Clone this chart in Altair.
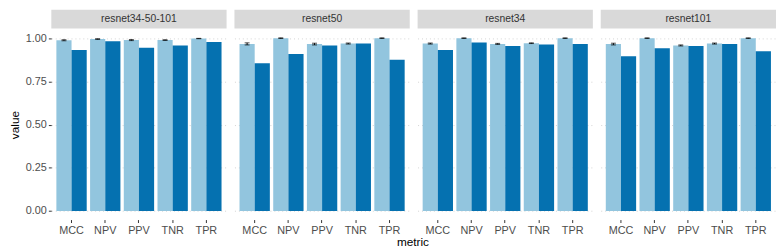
import altair as alt
import pandas as pd

models = ["resnet34-50-101", "resnet50", "resnet34", "resnet101"]
metrics = ["MCC", "NPV", "PPV", "TNR", "TPR"]
groups = ["validation", "test"]

# light (validation) bar heights per model, in metric order
light_vals = {
    "resnet34-50-101": [0.988, 0.995, 0.989, 0.989, 0.998],
    "resnet50":        [0.967, 1.000, 0.966, 0.969, 1.000],
    "resnet34":        [0.969, 1.000, 0.967, 0.971, 1.000],
    "resnet101":       [0.966, 1.000, 0.958, 0.969, 1.000],
}
# error half-widths on the light bars
light_err = {
    "resnet34-50-101": [0.003, 0.002, 0.003, 0.002, 0.001],
    "resnet50":        [0.006, 0.002, 0.005, 0.003, 0.002],
    "resnet34":        [0.003, 0.002, 0.003, 0.002, 0.002],
    "resnet101":       [0.005, 0.002, 0.003, 0.003, 0.002],
}
# dark (test) bar heights
dark_vals = {
    "resnet34-50-101": [0.931, 0.982, 0.944, 0.957, 0.978],
    "resnet50":        [0.855, 0.909, 0.957, 0.969, 0.875],
    "resnet34":        [0.931, 0.975, 0.955, 0.964, 0.967],
    "resnet101":       [0.895, 0.942, 0.955, 0.967, 0.924],
}
colors = ["#92C5DE", "#0571B0"]

rows = []
for m in models:
    for i, met in enumerate(metrics):
        v = light_vals[m][i]
        e = light_err[m][i]
        rows.append(dict(model=m, metric=met, group=groups[0], value=v, lo=v - e, hi=v + e))
        d = dark_vals[m][i]
        rows.append(dict(model=m, metric=met, group=groups[1], value=d, lo=d, hi=d))
df = pd.DataFrame(rows)

PW = 178
PH = 193
FONT = "Liberation Sans"

xenc = alt.X("metric:N", sort=metrics,
             scale=alt.Scale(paddingInner=0.1, paddingOuter=0.15),
             axis=alt.Axis(title=None, labelAngle=0, domain=False, tickSize=3,
                           tickColor="#333333", labelColor="#4d4d4d", labelFontSize=11,
                           labelPadding=2, grid=False, labelFont=FONT))
xoff = alt.XOffset("group:N", sort=groups,
                   scale=alt.Scale(paddingInner=0, paddingOuter=0))
yscale = alt.Scale(domain=[-0.05, 1.05], nice=False, zero=False)
yaxis = alt.Axis(values=[0, 0.25, 0.5, 0.75, 1.0], format=".2f", title="value",
                 grid=True, gridDash=[1, 3], gridColor="#c8c8c8", gridWidth=0.8,
                 domain=False, tickColor="#333333", tickSize=3, labelColor="#4d4d4d",
                 labelFontSize=11, titleFontSize=12, titleColor="#000000",
                 titleFontWeight="normal", labelPadding=2, titlePadding=4,
                 labelFont=FONT, titleFont=FONT)

bars = alt.Chart().mark_bar().encode(
    x=xenc,
    xOffset=xoff,
    y=alt.Y("value:Q", scale=yscale, axis=yaxis),
    y2=alt.datum(0),
    color=alt.Color("group:N", scale=alt.Scale(domain=groups, range=colors), legend=None),
)

err_rule = alt.Chart().mark_rule(color="#000000", strokeWidth=1).encode(
    x=xenc, xOffset=xoff,
    y=alt.Y("lo:Q", scale=yscale),
    y2="hi:Q",
).transform_filter(alt.datum.group == groups[0])

err_top = alt.Chart().mark_tick(color="#000000", size=5, thickness=1, orient="horizontal").encode(
    x=xenc, xOffset=xoff, y=alt.Y("hi:Q", scale=yscale),
).transform_filter(alt.datum.group == groups[0])

err_bot = alt.Chart().mark_tick(color="#000000", size=5, thickness=1, orient="horizontal").encode(
    x=xenc, xOffset=xoff, y=alt.Y("lo:Q", scale=yscale),
).transform_filter(alt.datum.group == groups[0])

strip = alt.Chart().mark_rect(color="#D9D9D9").encode(
    x=alt.value(0), x2=alt.value(PW), y=alt.value(-20), y2=alt.value(-1),
).transform_filter((alt.datum.metric == "MCC") & (alt.datum.group == groups[0]))

strip_text = alt.Chart().mark_text(fontSize=10.5, color="#333333", font=FONT,
                                   fontWeight="normal", baseline="middle", align="center").encode(
    x=alt.value(PW / 2), y=alt.value(-10.5), text="model:N",
).transform_filter((alt.datum.metric == "MCC") & (alt.datum.group == groups[0]))

layer = alt.layer(strip, strip_text, bars, err_rule, err_top, err_bot).properties(width=PW, height=PH)

chart = layer.facet(
    column=alt.Facet("model:N", sort=models, header=None),
    data=df,
    spacing=8,
).properties(
    padding=0,
    title=alt.TitleParams("metric", orient="bottom", anchor="middle", dx=21, fontSize=12,
                          fontWeight="normal", font=FONT, color="#000000", offset=2),
).configure_view(stroke="transparent", strokeWidth=0)

chart.save("out.html", embed_options={"renderer": "svg", "actions": False})
